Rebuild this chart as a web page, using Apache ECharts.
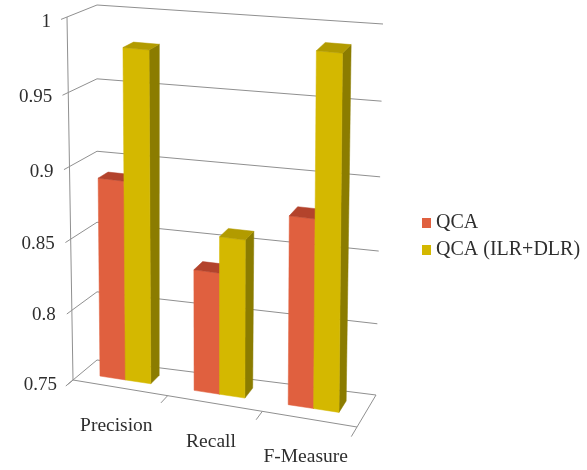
<!DOCTYPE html>
<html>
<head>
<meta charset="utf-8">
<script src="https://cdn.jsdelivr.net/npm/echarts@6/dist/echarts.min.js"></script>
<style>
  html, body { margin: 0; padding: 0; background: #fff; }
  #chart { width: 587px; height: 470px; }
</style>
</head>
<body>
<div id="chart"></div>
<script>
// Chart data
const categories = ['Precision', 'Recall', 'F-Measure'];
const seriesNames = ['QCA', 'QCA (ILR+DLR)'];
const qcaValues = [0.89, 0.835, 0.88];
const qcaIlrDlrValues = [0.98, 0.86, 0.99];
const valueTicks = [0.75, 0.8, 0.85, 0.9, 0.95, 1];
const tickLabels = ['0.75', '0.8', '0.85', '0.9', '0.95', '1'];

const Y_MIN = 0.75, Y_MAX = 1, Y_STEP = 0.05;
const FONT = '"Liberation Serif", "Times New Roman", serif';
const TEXT_COLOR = '#2e2e2e';
const GRID_COLOR = '#909090';

const faceColors = [
  { front: '#E0603F', top: '#B3432C', side: '#A23B27' },
  { front: '#D4B800', top: '#B29B00', side: '#8B7C00' }
];

// Bar placement inside a category band (fractions of the band width)
const BAR_FRAC = 0.27;
const PAIR_SHIFT = -0.03;
// Depth range of the columns (0 = front plane, 1 = back wall)
const Z_FRONT = 0.34, Z_BACK = 0.71;

// Perspective box built around the flat grid rectangle (front plane)
function boxCorners(rect) {
  const L = rect.x, R = rect.x + rect.width, T = rect.y, B = rect.y + rect.height;
  return {
    front: { bl: [L, B], br: [R, B + 47], tl: [L - 6, T], tr: [R + 3, T + 31] },
    back:  { bl: [L + 24, B - 20], br: [R + 19, B + 15], tl: [L + 24, T - 12], tr: [R + 26, T + 7] }
  };
}
function lerp(a, b, t) { return [a[0] + (b[0] - a[0]) * t, a[1] + (b[1] - a[1]) * t]; }
function planePoint(p, u, v) {
  const bottom = lerp(p.bl, p.br, u);
  const top = lerp(p.tl, p.tr, u);
  return lerp(bottom, top, v);
}
// u: 0..1 across categories, v: 0..1 up the value axis, z: depth
function project(rect, u, v, z) {
  const c = boxCorners(rect);
  const vv = v - 0.05 * v * (1 - v);
  const f = planePoint(c.front, u, vv);
  const b = planePoint(c.back, u, vv);
  return lerp(f, b, z);
}
function uOf(px, rect) { return (px - rect.x) / rect.width; }
function vOf(py, rect) { return (rect.y + rect.height - py) / rect.height; }

function line(p1, p2, color, width) {
  return {
    type: 'line',
    shape: { x1: p1[0], y1: p1[1], x2: p2[0], y2: p2[1] },
    style: { stroke: color || GRID_COLOR, lineWidth: width || 1 },
    silent: true
  };
}
function poly(points, fill) {
  return { type: 'polygon', shape: { points: points }, style: { fill: fill, stroke: fill, lineWidth: 0.5 }, silent: true };
}

// Walls, floor, axis line, ticks and all axis text
function renderFrame(params, api) {
  const rect = params.coordSys;
  const children = [];
  valueTicks.forEach(function (t, i) {
    const v = vOf(api.coord([0, t])[1], rect);
    const fl = project(rect, 0, v, 0);
    const bl = project(rect, 0, v, 1);
    const br = project(rect, 1, v, 1);
    children.push(line(fl, bl));
    children.push(line(bl, br));
    children.push(line(fl, project(rect, 0, v, -0.2)));
    children.push({
      type: 'text', silent: true,
      style: {
        text: tickLabels[i], x: fl[0] - 16, y: fl[1] + 5,
        align: 'right', verticalAlign: 'middle',
        fontFamily: FONT, fontSize: 19, fill: TEXT_COLOR
      }
    });
  });
  const v0 = vOf(api.coord([0, Y_MIN])[1], rect);
  const v1 = vOf(api.coord([0, Y_MAX])[1], rect);
  // front-left value axis line
  children.push(line(project(rect, 0, v0, 0), project(rect, 0, v1, 0)));
  // floor front and right edges
  children.push(line(project(rect, 0, v0, 0), project(rect, 1, v0, 0)));
  children.push(line(project(rect, 1, v0, 0), project(rect, 1, v0, 1)));
  // category ticks at band boundaries
  const n = categories.length;
  for (let k = 0; k <= n; k++) {
    const u = k / n;
    children.push(line(project(rect, u, v0, 0), project(rect, u, v0, -0.3)));
  }
  // category labels
  categories.forEach(function (name, i) {
    const u = uOf(api.coord([i, Y_MIN])[0], rect);
    const p = project(rect, u, v0, 0);
    children.push({
      type: 'text', silent: true,
      style: {
        text: name, x: p[0] - 4, y: p[1] + 38,
        align: 'center', verticalAlign: 'middle',
        fontFamily: FONT, fontSize: 19.5, fill: TEXT_COLOR
      }
    });
  });
  return { type: 'group', children: children };
}

// One 3D column: front, right side and top faces
function makeBarRenderer(seriesIdx) {
  const col = faceColors[seriesIdx];
  return function (params, api) {
    const rect = params.coordSys;
    const cat = api.value(0);
    const val = api.value(1);
    const band = api.size([1, 0])[0];
    const top = api.coord([cat, val]);
    const base = api.coord([cat, Y_MIN]);
    const w = band * BAR_FRAC;
    const x0 = top[0] + band * PAIR_SHIFT + (seriesIdx === 0 ? -w : 0);
    const x1 = x0 + w;
    const uL = uOf(x0, rect), uR = uOf(x1, rect);
    const vT = vOf(top[1], rect), vB = vOf(base[1], rect);
    const P = function (u, v, z) { return project(rect, u, v, z); };
    const front = [P(uL, vB, Z_FRONT), P(uR, vB, Z_FRONT), P(uR, vT, Z_FRONT), P(uL, vT, Z_FRONT)];
    const side = [P(uR, vB, Z_FRONT), P(uR, vB, Z_BACK), P(uR, vT, Z_BACK), P(uR, vT, Z_FRONT)];
    const cap = [P(uL, vT, Z_FRONT), P(uR, vT, Z_FRONT), P(uR, vT, Z_BACK), P(uL, vT, Z_BACK)];
    return {
      type: 'group',
      children: [poly(side, col.side), poly(front, col.front), poly(cap, col.top)]
    };
  };
}

function toData(values) {
  return values.map(function (v, i) { return [i, v]; });
}

const chart = echarts.init(document.getElementById('chart'), null, { renderer: 'canvas' });
chart.setOption({
  backgroundColor: '#ffffff',
  animation: false,
  grid: { left: 73, top: 17, width: 284, height: 363 },
  xAxis: { type: 'category', data: categories, show: false },
  yAxis: { type: 'value', min: Y_MIN, max: Y_MAX, interval: Y_STEP, show: false },
  legend: {
    data: seriesNames,
    orient: 'vertical',
    left: 417, top: 208,
    icon: 'rect', itemWidth: 9, itemHeight: 10, itemGap: 7,
    textStyle: { fontFamily: FONT, fontSize: 20, color: TEXT_COLOR, lineHeight: 20 },
    selectedMode: false
  },
  series: [
    {
      name: 'frame', type: 'custom', z: 1, silent: true,
      data: [[0, Y_MIN]],
      renderItem: renderFrame
    },
    {
      name: seriesNames[0], type: 'custom', z: 2,
      itemStyle: { color: faceColors[0].front },
      data: toData(qcaValues),
      renderItem: makeBarRenderer(0)
    },
    {
      name: seriesNames[1], type: 'custom', z: 3,
      itemStyle: { color: faceColors[1].front },
      data: toData(qcaIlrDlrValues),
      renderItem: makeBarRenderer(1)
    }
  ]
});
</script>
</body>
</html>
